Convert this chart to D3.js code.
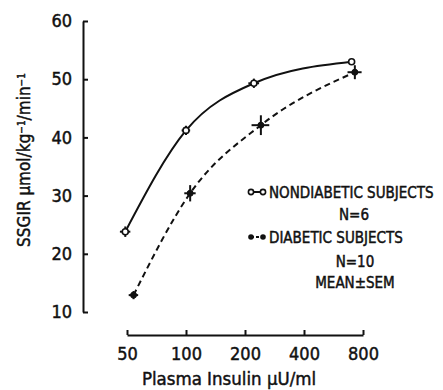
<!DOCTYPE html>
<html>
<head>
<meta charset="utf-8">
<script src="https://cdn.jsdelivr.net/npm/d3@7"></script>
<style>
  html, body { margin: 0; padding: 0; background: #fff; }
  svg { display: block; }
  text { font-family: 'Liberation Sans Narrow', 'DejaVu Sans Condensed', sans-serif; fill: #111; stroke: #111; stroke-width: 0.45px; }
</style>
</head>
<body>
<svg id="chart" width="443" height="390"></svg>
<script>
// Plasma insulin (µU/ml) and steady-state glucose infusion rate (µmol/kg/min)
const xTicks = [50, 100, 200, 400, 800];
const yTicks = [10, 20, 30, 40, 50, 60];

const nonInsulin    = [49, 100, 222, 700];
const nonSSGIR      = [23.8, 41.2, 49.3, 53.0];
const nonInsulinSem = [3, 5, 14, 20];
const nonSSGIRSem   = [0.9, 0.8, 0.8, 0.4];

const diaInsulin    = [54, 105, 241, 727];
const diaSSGIR      = [12.9, 30.4, 42.1, 51.2];
const diaInsulinSem = [3, 7, 25, 60];
const diaSSGIRSem   = [0.7, 1.4, 1.7, 1.2];

const svg = d3.select("#chart");
const ink = "#111";
const fontStack = "'Liberation Sans Narrow','DejaVu Sans Condensed',sans-serif";

const x = d3.scaleLog().base(2).domain([50, 800]).range([127, 363]);
const y = d3.scaleLinear().domain([10, 60]).range([312, 21]);

// Axes with inward-pointing ticks
const yAxis = d3.axisLeft(y).tickValues(yTicks).tickSize(-5).tickSizeOuter(0).tickPadding(11)
  .tickFormat(d3.format("d"));
const gy = svg.append("g").attr("transform", `translate(83,0)`).call(yAxis);

const xAxis = d3.axisBottom(x).tickValues(xTicks).tickSize(-5).tickSizeOuter(0).tickPadding(12)
  .tickFormat(d3.format("d"));
const gx = svg.append("g").attr("transform", `translate(0,335)`).call(xAxis);

[gx, gy].forEach(g => {
  g.select(".domain").attr("stroke", ink).attr("stroke-width", 2);
  g.selectAll(".tick line").attr("stroke", ink).attr("stroke-width", 2);
  g.selectAll(".tick text").attr("fill", ink).attr("stroke", ink).attr("stroke-width", 0.5)
    .style("font-size", "18px").style("font-family", fontStack);
});

// Axis titles
const yTitle = svg.append("text")
  .attr("transform", "translate(30,160) rotate(-90)")
  .attr("text-anchor", "middle")
  .style("font-size", "17px");
yTitle.append("tspan").text("SSGIR \u03bcmol/kg");
yTitle.append("tspan").attr("baseline-shift", "super").style("font-size", "10px").text("\u22121");
yTitle.append("tspan").text("/min");
yTitle.append("tspan").attr("baseline-shift", "super").style("font-size", "10px").text("\u22121");

svg.append("text")
  .attr("x", 229).attr("y", 385)
  .attr("text-anchor", "middle")
  .style("font-size", "18.5px")
  .text("Plasma Insulin \u03bcU/ml");

// Series
function series(ins, val, insSem, valSem) {
  return ins.map((d, i) => ({ x: d, y: val[i], xs: insSem[i], ys: valSem[i] }));
}
const nonData = series(nonInsulin, nonSSGIR, nonInsulinSem, nonSSGIRSem);
const diaData = series(diaInsulin, diaSSGIR, diaInsulinSem, diaSSGIRSem);

const line = d3.line().x(d => x(d.x)).y(d => y(d.y)).curve(d3.curveMonotoneX);

svg.append("path").datum(nonData).attr("d", line)
  .attr("fill", "none").attr("stroke", ink).attr("stroke-width", 2);
svg.append("path").datum(diaData).attr("d", line)
  .attr("fill", "none").attr("stroke", ink).attr("stroke-width", 2)
  .attr("stroke-dasharray", "6,4");

// Error bars (mean ± SEM in both directions)
function errorBars(data) {
  const g = svg.append("g").attr("stroke", ink).attr("stroke-width", 2);
  g.selectAll(".v").data(data).join("line")
    .attr("x1", d => x(d.x)).attr("x2", d => x(d.x))
    .attr("y1", d => y(d.y - d.ys)).attr("y2", d => y(d.y + d.ys));
  g.selectAll(".h").data(data).join("line")
    .attr("x1", d => x(d.x - d.xs)).attr("x2", d => x(d.x + d.xs))
    .attr("y1", d => y(d.y)).attr("y2", d => y(d.y));
}
errorBars(nonData);
errorBars(diaData);

svg.append("g").selectAll("circle").data(nonData).join("circle")
  .attr("cx", d => x(d.x)).attr("cy", d => y(d.y)).attr("r", 3)
  .attr("fill", "#fff").attr("stroke", ink).attr("stroke-width", 1.6);
svg.append("g").selectAll("circle").data(diaData).join("circle")
  .attr("cx", d => x(d.x)).attr("cy", d => y(d.y)).attr("r", 3)
  .attr("fill", ink).attr("stroke", ink).attr("stroke-width", 1);

// Legend
const lg = svg.append("g");
lg.append("line").attr("x1", 251).attr("x2", 263).attr("y1", 192).attr("y2", 192)
  .attr("stroke", ink).attr("stroke-width", 2);
lg.selectAll(".o").data([251, 263]).join("circle")
  .attr("cx", d => d).attr("cy", 192).attr("r", 2.6)
  .attr("fill", "#fff").attr("stroke", ink).attr("stroke-width", 1.6);
lg.append("line").attr("x1", 251).attr("x2", 263).attr("y1", 237).attr("y2", 237)
  .attr("stroke", ink).attr("stroke-width", 2).attr("stroke-dasharray", "3,2");
lg.selectAll(".f").data([251, 263]).join("circle")
  .attr("cx", d => d).attr("cy", 237).attr("r", 2.8)
  .attr("fill", ink);

const legendFont = "15px";
lg.append("text").attr("x", 269).attr("y", 198).style("font-size", legendFont).text("NONDIABETIC SUBJECTS");
lg.append("text").attr("x", 354).attr("y", 220).attr("text-anchor", "middle").style("font-size", legendFont).text("N=6");
lg.append("text").attr("x", 269).attr("y", 243).style("font-size", legendFont).text("DIABETIC SUBJECTS");
lg.append("text").attr("x", 355).attr("y", 267).attr("text-anchor", "middle").style("font-size", legendFont).text("N=10");
lg.append("text").attr("x", 355).attr("y", 288).attr("text-anchor", "middle").style("font-size", legendFont).text("MEAN\u00b1SEM");
</script>
</body>
</html>
